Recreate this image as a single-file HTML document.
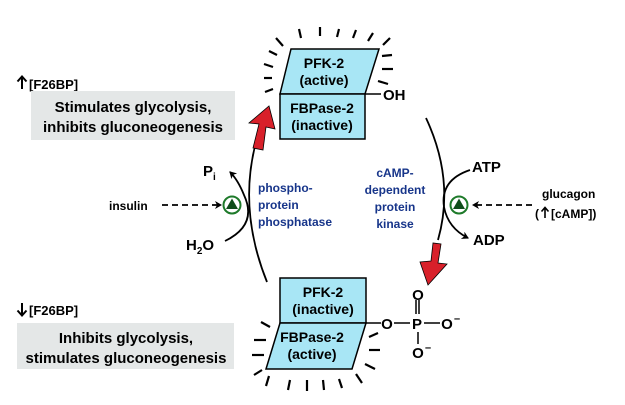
<!DOCTYPE html>
<html><head><style>
body{margin:0;background:#fff;}
svg{display:block;}
text{font-family:"Liberation Sans",sans-serif;font-weight:bold;}
</style></head><body>
<svg width="625" height="405" viewBox="0 0 625 405" xmlns="http://www.w3.org/2000/svg">
<defs>
<marker id="ah" markerWidth="8" markerHeight="8" refX="6" refY="4" orient="auto" markerUnits="userSpaceOnUse"><path d="M0,0 L7,4 L0,8 L2,4 z" fill="#000"/></marker>
</defs>
<!-- left labels -->
<path d="M22,89 L22,77 M17.5,81.5 L22,76.5 L26.5,81.5" fill="none" stroke="#000" stroke-width="2"/>
<text x="29" y="89" font-size="13">[F26BP]</text>
<rect x="31" y="91" width="204" height="49" fill="#e4e7e7"/>
<text x="133" y="112" font-size="15" text-anchor="middle">Stimulates glycolysis,</text>
<text x="133" y="132" font-size="15" text-anchor="middle">inhibits gluconeogenesis</text>
<path d="M22,303 L22,315 M17.5,310.5 L22,315.5 L26.5,310.5" fill="none" stroke="#000" stroke-width="2"/>
<text x="29" y="315" font-size="13">[F26BP]</text>
<rect x="17" y="323" width="217" height="46" fill="#e4e7e7"/>
<text x="126" y="343" font-size="15" text-anchor="middle">Inhibits glycolysis,</text>
<text x="126" y="363" font-size="15" text-anchor="middle">stimulates gluconeogenesis</text>

<!-- top enzyme -->
<g stroke="#000" stroke-width="2.2" stroke-linecap="butt">
<line x1="283" y1="46" x2="276" y2="38"/><line x1="301" y1="38" x2="299" y2="29"/><line x1="320" y1="36" x2="320" y2="27"/><line x1="337" y1="37" x2="339" y2="29"/><line x1="353" y1="38" x2="356" y2="30"/><line x1="368" y1="41" x2="373" y2="33"/><line x1="383" y1="45" x2="390" y2="38"/>
<line x1="277" y1="55" x2="269" y2="51"/><line x1="273" y1="67" x2="264" y2="64"/><line x1="272" y1="78" x2="264" y2="78"/><line x1="273" y1="89" x2="265" y2="92"/>
<line x1="382" y1="56" x2="392" y2="55"/><line x1="382" y1="69" x2="393" y2="69"/><line x1="378" y1="81" x2="388" y2="84"/>
</g>
<polygon points="291,49 379,49 365,94 280,94" fill="#a8e6f5" stroke="#000" stroke-width="1.5"/>
<rect x="280" y="94" width="85" height="45" fill="#a8e6f5" stroke="#000" stroke-width="1.5"/>
<text x="324" y="68" font-size="14" text-anchor="middle">PFK-2</text>
<text x="324" y="85" font-size="14" text-anchor="middle">(active)</text>
<text x="322" y="113" font-size="14" text-anchor="middle">FBPase-2</text>
<text x="322" y="130" font-size="14" text-anchor="middle">(inactive)</text>
<line x1="365" y1="94" x2="381" y2="94" stroke="#000" stroke-width="1.5"/>
<text x="383" y="100" font-size="15">OH</text>

<!-- bottom enzyme -->
<g stroke="#000" stroke-width="2.2">
<line x1="270" y1="327" x2="261" y2="322"/><line x1="266" y1="340" x2="254" y2="340"/><line x1="264" y1="355" x2="252" y2="355"/><line x1="262" y1="370" x2="254" y2="375"/>
<line x1="269" y1="376" x2="266" y2="386"/><line x1="290" y1="380" x2="288" y2="390"/><line x1="307" y1="380" x2="307" y2="391"/><line x1="323" y1="380" x2="324" y2="390"/><line x1="339" y1="379" x2="342" y2="388"/><line x1="356" y1="374" x2="362" y2="383"/>
<line x1="369" y1="337" x2="378" y2="333"/><line x1="369" y1="350" x2="380" y2="350"/><line x1="365" y1="364" x2="375" y2="369"/>
</g>
<rect x="280" y="278" width="86" height="45" fill="#a8e6f5" stroke="#000" stroke-width="1.5"/>
<polygon points="280,323 366,323 352,369 266,369" fill="#a8e6f5" stroke="#000" stroke-width="1.5"/>
<text x="323" y="297" font-size="14" text-anchor="middle">PFK-2</text>
<text x="323" y="314" font-size="14" text-anchor="middle">(inactive)</text>
<text x="312" y="342" font-size="14" text-anchor="middle">FBPase-2</text>
<text x="312" y="359" font-size="14" text-anchor="middle">(active)</text>
<!-- phosphate -->
<g stroke="#000" stroke-width="1.5">
<line x1="366" y1="323" x2="381" y2="323"/>
<line x1="394" y1="323" x2="410" y2="323"/>
<line x1="424" y1="323" x2="440" y2="323"/>
<line x1="416" y1="300" x2="416" y2="314"/><line x1="419" y1="300" x2="419" y2="314"/>
<line x1="418" y1="332" x2="418" y2="344"/>
</g>
<g font-size="15">
<text x="387" y="329" text-anchor="middle">O</text>
<text x="417" y="329" text-anchor="middle">P</text>
<text x="447" y="329" text-anchor="middle">O</text><text x="454" y="322" font-size="11">–</text>
<text x="418" y="300" text-anchor="middle">O</text>
<text x="418" y="358" text-anchor="middle">O</text><text x="425" y="351" font-size="11">–</text>
</g>

<!-- main arcs -->
<path d="M256,142 Q238,210 267,282" fill="none" stroke="#000" stroke-width="1.8"/>
<path d="M426,118 Q455,180 438,240" fill="none" stroke="#000" stroke-width="1.8"/>
<!-- red arrows -->
<path d="M253,148 L259,124 L249,123 L269,106 L275,129 L266,127 L263,150 z" fill="#d8202a" stroke="#000" stroke-width="0.8"/>
<path d="M433,243 L431,261 L420,262 L428,285 L447,264 L438,263 L441,244 z" fill="#d8202a" stroke="#000" stroke-width="0.8"/>

<!-- small arcs -->
<path d="M225,241 Q258,225 244,195 Q238,180 230,172" fill="none" stroke="#000" stroke-width="1.8" marker-end="url(#ah)"/>
<path d="M470,170 Q440,180 444,207 Q448,228 468,238" fill="none" stroke="#000" stroke-width="1.8" marker-end="url(#ah)"/>
<!-- enzymes -->
<circle cx="232" cy="205" r="8.5" fill="#fff" stroke="#1e7a2a" stroke-width="2"/>
<polygon points="232,198.5 238,209 226,209" fill="#0f4d1a"/>
<circle cx="459" cy="205" r="8.5" fill="#fff" stroke="#1e7a2a" stroke-width="2"/>
<polygon points="459,198.5 465,209 453,209" fill="#0f4d1a"/>
<!-- dashed -->
<line x1="162" y1="205" x2="221" y2="205" stroke="#000" stroke-width="1.8" stroke-dasharray="6,4" marker-end="url(#ah)"/>
<line x1="532" y1="205" x2="473" y2="205" stroke="#000" stroke-width="1.8" stroke-dasharray="6,4" marker-end="url(#ah)"/>
<text x="109" y="210" font-size="12">insulin</text>
<text x="542" y="198" font-size="12">glucagon</text>
<text x="535" y="218" font-size="12">(</text>
<path d="M545,218 L545,208 M541.5,211.5 L545,207.5 L548.5,211.5" fill="none" stroke="#000" stroke-width="1.6"/>
<text x="551" y="218" font-size="12">[cAMP])</text>
<text x="203" y="176" font-size="15">P<tspan font-size="10" dy="4">i</tspan></text>
<text x="186" y="250" font-size="15">H<tspan font-size="10" dy="4">2</tspan><tspan dy="-4">O</tspan></text>
<text x="472" y="172" font-size="15">ATP</text>
<text x="473" y="245" font-size="15">ADP</text>
<!-- enzyme names -->
<g font-size="12" fill="#17358a">
<text x="258" y="192">phospho-</text>
<text x="258" y="209">protein</text>
<text x="258" y="226">phosphatase</text>
<text x="395" y="177" text-anchor="middle">cAMP-</text>
<text x="395" y="194" text-anchor="middle">dependent</text>
<text x="395" y="211" text-anchor="middle">protein</text>
<text x="395" y="228" text-anchor="middle">kinase</text>
</g>
</svg>
</body></html>
